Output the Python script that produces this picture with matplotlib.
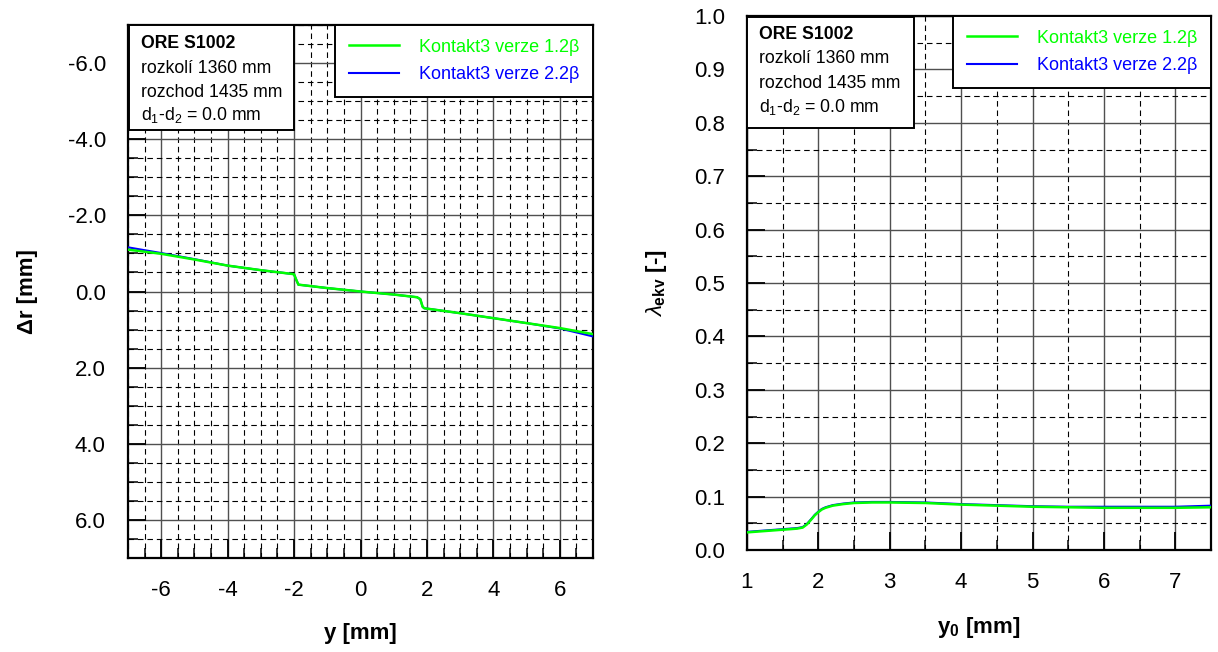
import matplotlib
matplotlib.use("Agg")
import matplotlib.pyplot as plt
from matplotlib.ticker import MultipleLocator, FormatStrFormatter
from matplotlib.patches import Rectangle

plt.rcParams['font.family'] = ['Liberation Sans', 'DejaVu Sans']
plt.rcParams['mathtext.fontset'] = 'custom'
plt.rcParams['mathtext.rm'] = 'Liberation Sans'
plt.rcParams['mathtext.it'] = 'Liberation Sans:italic'
plt.rcParams['mathtext.bf'] = 'Liberation Sans:bold'
plt.rcParams['axes.unicode_minus'] = False

# ---- data: left chart (delta r vs y) ----
y_left = [-7.0, -6.0, -5.0, -4.0, -3.0, -2.05, -2.0, -1.93, -1.87, -1.0, 0.0, 1.0, 1.7, 1.8, 1.87, 1.92, 3.0, 4.0, 5.0, 6.0, 7.0]
dr_v12 = [-1.10, -0.99, -0.84, -0.68, -0.56, -0.46, -0.45, -0.30, -0.18, -0.09, 0.0, 0.08, 0.15, 0.20, 0.40, 0.44, 0.57, 0.70, 0.83, 0.96, 1.12]
dr_v22 = [-1.16, -1.01, -0.85, -0.68, -0.56, -0.46, -0.45, -0.30, -0.18, -0.09, 0.0, 0.08, 0.15, 0.20, 0.40, 0.44, 0.57, 0.70, 0.83, 0.97, 1.18]

# ---- data: right chart (lambda_ekv vs y0) ----
y0_right = [1.0, 1.2, 1.4, 1.6, 1.7, 1.78, 1.84, 1.9, 1.95, 2.0, 2.05, 2.1, 2.2, 2.35, 2.5, 2.75, 3.0, 3.5, 4.0, 4.5, 5.0, 5.5, 6.0, 6.5, 7.0, 7.5]
lam_v12 = [0.033, 0.035, 0.037, 0.039, 0.040, 0.042, 0.048, 0.057, 0.065, 0.071, 0.076, 0.079, 0.083, 0.086, 0.088, 0.089, 0.089, 0.088, 0.085, 0.083, 0.081, 0.080, 0.079, 0.079, 0.079, 0.080]
lam_v22 = [0.034, 0.036, 0.038, 0.040, 0.041, 0.043, 0.049, 0.058, 0.066, 0.072, 0.077, 0.080, 0.084, 0.087, 0.089, 0.090, 0.090, 0.089, 0.086, 0.084, 0.082, 0.081, 0.081, 0.081, 0.081, 0.083]

labels = ['Kontakt3 verze 1.2\u03b2', 'Kontakt3 verze 2.2\u03b2']
colors = ['#00ff00', '#0000ff']
info_lines = ['ORE S1002', 'rozkolí 1360 mm', 'rozchod 1435 mm', r'd$_1$-d$_2$ = 0.0 mm']
left_ticks = [-6, -4, -2, 0, 2, 4, 6]
left_yticklabels = ['-6.0', '-4.0', '-2.0', '0.0', '2.0', '4.0', '6.0']

W, H = 1218, 652
fig = plt.figure(figsize=(W / 100, H / 100), dpi=100)


def add_axes_px(x0, y0, x1, y1):
    return fig.add_axes([x0 / W, 1 - y1 / H, (x1 - x0) / W, (y1 - y0) / H])


ax1 = add_axes_px(128, 25, 593, 558)
ax2 = add_axes_px(747, 16, 1211, 550)


def style_axes(ax, xmaj, xmin, ymaj, ymin):
    ax.xaxis.set_major_locator(MultipleLocator(xmaj))
    ax.xaxis.set_minor_locator(MultipleLocator(xmin))
    ax.yaxis.set_major_locator(MultipleLocator(ymaj))
    ax.yaxis.set_minor_locator(MultipleLocator(ymin))
    ax.grid(which='major', color='#505050', linewidth=1.0, linestyle='-')
    ax.grid(which='minor', color='black', linewidth=0.8, linestyle=(0, (5, 3.5)))
    ax.set_axisbelow(True)
    ax.tick_params(which='major', direction='in', length=13, width=1.3, pad=16,
                   labelsize=16, top=False, right=False)
    ax.tick_params(which='minor', direction='in', length=7.5, width=1.1,
                   top=False, right=False)
    for s in ax.spines.values():
        s.set_linewidth(1.6)


def info_box(ax, wpx, hpx, dx, dy, ox, baselines):
    bb = ax.get_position()
    AW, AH = bb.width * W, bb.height * H
    ax.add_patch(Rectangle((dx / AW, 1 - (dy + hpx) / AH), wpx / AW, hpx / AH,
                           transform=ax.transAxes, facecolor='white',
                           edgecolor='black', linewidth=1.4, zorder=5))
    for i, (txt, b) in enumerate(zip(info_lines, baselines)):
        ax.text(ox / AW, 1 - b / AH, txt, transform=ax.transAxes,
                fontsize=12.7, fontweight='bold' if i == 0 else 'normal',
                va='baseline', ha='left', zorder=6)


def add_legend(ax, handles):
    leg = ax.legend(handles, labels, loc='upper right', bbox_to_anchor=(1.0, 1.0),
                    borderaxespad=0, fontsize=13, fancybox=False, framealpha=1,
                    edgecolor='black', handlelength=2.8, handletextpad=1.1,
                    labelspacing=0.6, borderpad=0.75)
    leg.get_frame().set_linewidth(1.4)
    for t, c in zip(leg.get_texts(), colors):
        t.set_color(c)
    leg.set_zorder(7)


# left chart
style_axes(ax1, 2, 0.5, 2, 0.5)
l22, = ax1.plot(y_left, dr_v22, color=colors[1], lw=1.5, zorder=3)
l12, = ax1.plot(y_left, dr_v12, color=colors[0], lw=1.8, zorder=4)
ax1.set_xlim(-7, 7)
ax1.set_ylim(7, -7)
ax1.set_xticks(left_ticks)
ax1.set_yticks(left_ticks)
ax1.set_yticklabels(left_yticklabels)
ax1.set_xlabel('y [mm]', fontsize=16, fontweight='bold', labelpad=16)
ax1.set_ylabel('\u0394r [mm]', fontsize=16, fontweight='bold', labelpad=21)
add_legend(ax1, [l12, l22])
info_box(ax1, 165, 105, 1, 0, 13, [23, 48, 72, 95])

# right chart
style_axes(ax2, 1, 0.5, 0.1, 0.05)
r22, = ax2.plot(y0_right, lam_v22, color=colors[1], lw=1.5, zorder=3)
r12, = ax2.plot(y0_right, lam_v12, color=colors[0], lw=1.8, zorder=4)
ax2.set_xlim(1, 7.5)
ax2.set_ylim(0, 1.0)
ax2.yaxis.set_major_formatter(FormatStrFormatter('%.1f'))
ax2.set_xlabel(r'$\mathbf{y}_\mathbf{0}$ [mm]', fontsize=16, fontweight='bold', labelpad=16)
ax2.set_ylabel(r'$\lambda_{\mathbf{ekv}}$ [-]', fontsize=16, fontweight='bold', labelpad=18)
add_legend(ax2, [r12, r22])
info_box(ax2, 167, 111, 0, 1, 12, [23, 47, 72, 96])

fig.savefig('out.png', dpi=100)
